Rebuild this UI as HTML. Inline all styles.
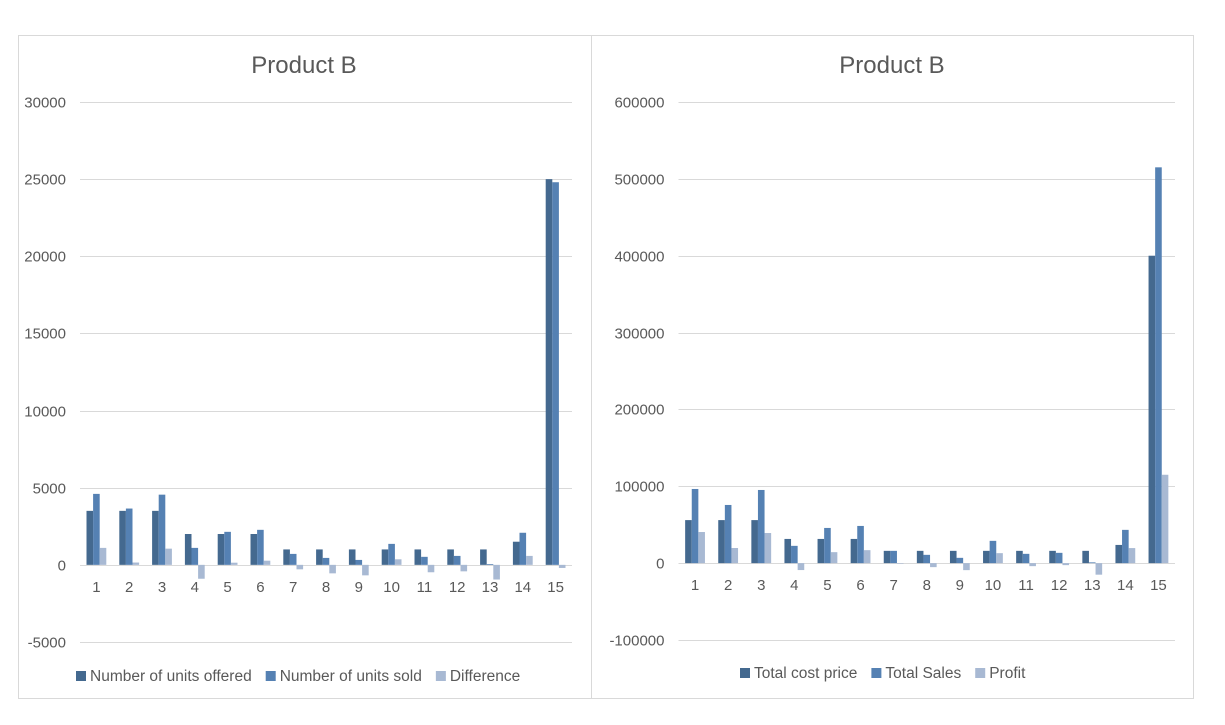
<!DOCTYPE html>
<html><head><meta charset="utf-8">
<style>
html,body{margin:0;padding:0;background:#fff;}
body{width:1225px;height:720px;overflow:hidden;font-family:"Liberation Sans",sans-serif;}
svg text{font-family:"Liberation Sans",sans-serif;}
</style></head>
<body>
<svg id="root" width="1225" height="720" xmlns="http://www.w3.org/2000/svg">
<rect x="18.5" y="35.5" width="573" height="663" fill="#fff" stroke="#d9d9d9"/>
<rect x="591.5" y="35.5" width="602" height="663" fill="#fff" stroke="#d9d9d9"/>
<g id="left"></g>
<g id="right"></g>
</svg>
<script>
const categories = ["1","2","3","4","5","6","7","8","9","10","11","12","13","14","15"];
const unitsOffered = [3500,3500,3500,2000,2000,2000,1000,1000,1000,1000,1000,1000,1000,1500,25000];
const unitsSold = [4600,3650,4550,1100,2140,2270,710,450,320,1360,520,580,50,2080,24800];
const unitsDifference = [1100,150,1050,-900,140,270,-290,-550,-680,360,-480,-420,-950,580,-200];
const leftTicks = [-5000,0,5000,10000,15000,20000,25000,30000];
const totalCost = [56000,56000,56000,31500,31500,31500,16000,16000,16000,16000,16000,16000,16000,23700,400000];
const totalSales = [96500,75700,95200,22500,45800,48400,16000,10800,6900,29000,12100,13400,1000,43300,515000];
const profit = [40500,19700,39200,-9000,14300,16900,0,-5200,-9100,13000,-3900,-2600,-15000,19600,115000];
const rightTicks = [-100000,0,100000,200000,300000,400000,500000,600000];
const leftLegend = ["Number of units offered","Number of units sold","Difference"];
const rightLegend = ["Total cost price","Total Sales","Profit"];

const colors = ["#44698f","#5581b3","#a8b9d3"];
const NS = "http://www.w3.org/2000/svg";
function mk(tag, attrs, parent){const e=document.createElementNS(NS,tag);for(const k in attrs)e.setAttribute(k,attrs[k]);parent.appendChild(e);return e;}

function drawChart(g, cfg){
  const y = v => cfg.y0 + (v - cfg.min)/(cfg.max - cfg.min)*(cfg.y1 - cfg.y0);
  const band = (cfg.x1 - cfg.x0)/categories.length;
  const t = mk("text",{x:cfg.titleX,y:73,"text-anchor":"middle","font-size":"24","fill":"#595959"},g);
  
  
  t.textContent = "Product B";
  cfg.ticks.forEach(v=>{
    const yy = Math.round(y(v))+0.5;
    const l = mk("line",{x1:cfg.x0,x2:cfg.x1,y1:yy,y2:yy,stroke:"#d9d9d9","stroke-width":"1"},g);
    
    
    const tx = mk("text",{x:cfg.x0-14,y:yy+5,"text-anchor":"end","font-size":"15","fill":"#595959"},g);
    
    
    tx.textContent = v;
  });
  const bw = 6.6;
  cfg.series.forEach((s,si)=>{
    s.forEach((v,i)=>{
      const cx = cfg.x0 + band*(i+0.5);
      const x = cx - bw*1.5 + si*bw;
      const ya = y(v), yb = y(0);
      const r = mk("rect",{x:x,y:Math.min(ya,yb),width:bw,height:Math.max(Math.abs(yb-ya),0.5),fill:colors[si]},g);
      
      
    });
  });
  categories.forEach((c,i)=>{
    const tx = mk("text",{x:cfg.x0+band*(i+0.5),y:y(0)+27,"text-anchor":"middle","font-size":"15","fill":"#595959"},g);
    
    
    tx.textContent = c;
  });
  let lx = cfg.legendX;
  cfg.legend.forEach((name,si)=>{
    const r = mk("rect",{x:lx,y:cfg.legendY-10,width:10,height:10,fill:colors[si]},g);
    
    
    const tx = mk("text",{x:lx+14,y:cfg.legendY,"font-size":"15.5","fill":"#595959"},g);
    
    
    tx.textContent = name;
    lx += 14 + tx.getComputedTextLength() + 14;
  });
}
drawChart(document.getElementById('left'),{x0:80,x1:572,y0:642,y1:102,min:-5000,max:30000,ticks:leftTicks,
  series:[unitsOffered,unitsSold,unitsDifference],legend:leftLegend,titleX:304,legendX:76,legendY:681});
drawChart(document.getElementById('right'),{x0:678.5,x1:1175,y0:640,y1:102,min:-100000,max:600000,ticks:rightTicks,
  series:[totalCost,totalSales,profit],legend:rightLegend,titleX:892,legendX:740,legendY:678});
</script>
</body></html>
